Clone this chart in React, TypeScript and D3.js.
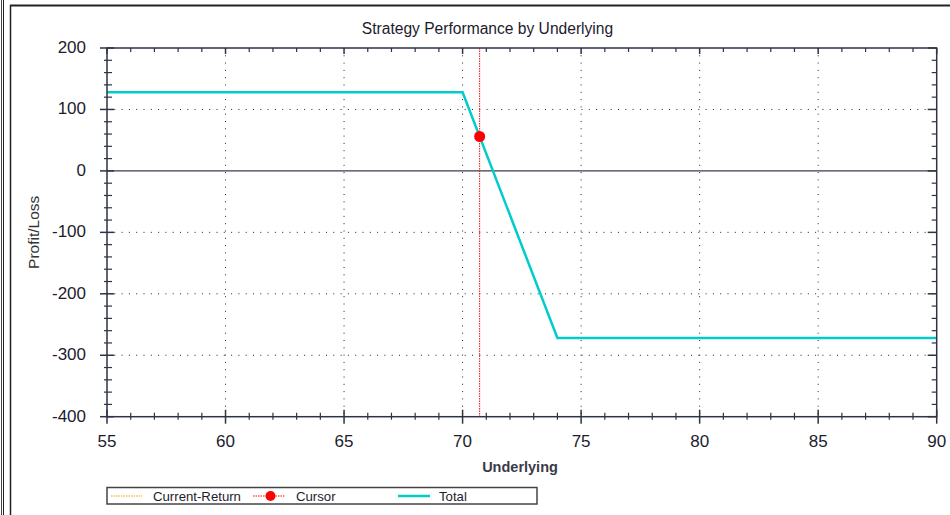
import React from "react";
import * as d3 from "d3";

const payoffX = [55, 70, 74, 90];
const payoffY = [128, 128, -272, -272];
const cursorX = 70.72;
const cursorY = 56;
const xMajorTicks = [55, 60, 65, 70, 75, 80, 85, 90];
const yMajorTicks = [200, 100, 0, -100, -200, -300, -400];
const xMinorStep = 1;
const yMinorStep = 20;
const legendItems = ["Current-Return", "Cursor", "Total"];
const title = "Strategy Performance by Underlying";

const W = 950;
const H = 515;
const L = 107, R = 936.7, T = 48, B = 416.7;
const axisColor = "#2e3346";
const textColor = "#1c1c2c";
const cyan = "#00cccc";
const font = "'Liberation Sans', Arial, sans-serif";

export default function App() {
  const x = d3.scaleLinear().domain([55, 90]).range([L, R]);
  const y = d3.scaleLinear().domain([-400, 200]).range([B, T]);
  const xMinor = d3.range(55, 90.001, xMinorStep).filter((v) => !xMajorTicks.includes(v));
  const yMinor = d3.range(-400, 200.001, yMinorStep).filter((v) => !yMajorTicks.includes(v));
  const line = d3
    .line<number>()
    .x((_, i) => x(payoffX[i]))
    .y((d) => y(d));
  const pathD = line(payoffY) || "";
  const xGrid = xMajorTicks.filter((v) => v !== 55 && v !== 90);
  const yGrid = yMajorTicks.filter((v) => v !== 200 && v !== -400 && v !== 0);

  const legY = 496;
  return (
    <svg
      width={W}
      height={H}
      style={{ position: "absolute", left: 0, top: 0, background: "#fff" }}
      fontFamily={font}
    >
      {/* outer frames */}
      <line x1={1.5} y1={0} x2={1.5} y2={H} stroke="#444" strokeWidth={1} />
      <line x1={3.5} y1={0} x2={3.5} y2={H} stroke="#222" strokeWidth={1} />
      <line x1={10.5} y1={5} x2={10.5} y2={H} stroke="#222" strokeWidth={1.5} />
      <line x1={10} y1={5.5} x2={W} y2={5.5} stroke="#222" strokeWidth={1.8} />

      <text x={487.5} y={34} textAnchor="middle" fontSize={15.6} fill={textColor}>
        {title}
      </text>

      {/* grid */}
      {xGrid.map((v) => (
        <line key={"gx" + v} x1={x(v)} x2={x(v)} y1={T} y2={B} stroke="#222" strokeWidth={1} strokeDasharray="1,6.3" />
      ))}
      {yGrid.map((v) => (
        <line key={"gy" + v} x1={L} x2={R} y1={y(v)} y2={y(v)} stroke="#222" strokeWidth={1} strokeDasharray="1,6.3" />
      ))}
      <line x1={L} x2={R} y1={y(0)} y2={y(0)} stroke="#3a3d4e" strokeWidth={1.2} />

      {/* total line */}
      <path d={pathD} fill="none" stroke={cyan} strokeWidth={2.5} />

      {/* cursor */}
      <line x1={x(cursorX)} x2={x(cursorX)} y1={T} y2={B} stroke="#f01010" strokeWidth={1} strokeDasharray="1.5,1" />
      <circle cx={x(cursorX)} cy={y(cursorY)} r={5.5} fill="#ff0000" />

      {/* frame */}
      <rect x={L} y={T} width={R - L} height={B - T} fill="none" stroke={axisColor} strokeWidth={1.5} />

      {/* ticks bottom/top */}
      {xMajorTicks.map((v) => (
        <g key={"xt" + v}>
          <line x1={x(v)} x2={x(v)} y1={B - 7} y2={B + 7} stroke={axisColor} strokeWidth={1.5} />
          <line x1={x(v)} x2={x(v)} y1={T} y2={T + 6} stroke={axisColor} strokeWidth={1.5} />
          <text x={x(v)} y={446.5} textAnchor="middle" fontSize={17} fill={textColor}>
            {v}
          </text>
        </g>
      ))}
      {xMinor.map((v) => (
        <g key={"xm" + v}>
          <line x1={x(v)} x2={x(v)} y1={B - 4} y2={B + 3} stroke={axisColor} strokeWidth={1.2} />
          <line x1={x(v)} x2={x(v)} y1={T} y2={T + 4} stroke={axisColor} strokeWidth={1.2} />
        </g>
      ))}
      {yMajorTicks.map((v) => (
        <g key={"yt" + v}>
          <line x1={L - 7} x2={L + 7} y1={y(v)} y2={y(v)} stroke={axisColor} strokeWidth={1.5} />
          <line x1={R - 9} x2={R} y1={y(v)} y2={y(v)} stroke={axisColor} strokeWidth={1.5} />
          <text x={86} y={y(v) + 5} textAnchor="end" fontSize={17} fill={textColor}>
            {v}
          </text>
        </g>
      ))}
      {yMinor.map((v) => (
        <g key={"ym" + v}>
          <line x1={L - 3} x2={L + 5} y1={y(v)} y2={y(v)} stroke={axisColor} strokeWidth={1.2} />
          <line x1={R - 5} x2={R} y1={y(v)} y2={y(v)} stroke={axisColor} strokeWidth={1.2} />
        </g>
      ))}

      {/* axis titles */}
      <text x={520} y={472} textAnchor="middle" fontSize={14.5} fill="#3a3a48" fontWeight="bold">
        Underlying
      </text>
      <text
        transform={`translate(39, ${(T + B) / 2}) rotate(-90)`}
        textAnchor="middle"
        fontSize={15.5}
        fill="#333"
      >
        Profit/Loss
      </text>

      {/* legend */}
      <rect x={107} y={487.5} width={430} height={16.5} fill="#fff" stroke="#444" strokeWidth={1.5} />
      <line x1={111} x2={142} y1={legY} y2={legY} stroke="#f5a000" strokeWidth={1} strokeDasharray="1.5,1" />
      <text x={153} y={legY + 5} fontSize={13.2} fill={textColor}>{legendItems[0]}</text>
      <line x1={253} x2={285} y1={legY} y2={legY} stroke="#ff0000" strokeWidth={1} strokeDasharray="1.5,1" />
      <circle cx={270.5} cy={legY} r={5} fill="#ff0000" />
      <text x={296} y={legY + 5} fontSize={13.2} fill={textColor}>{legendItems[1]}</text>
      <line x1={398} x2={430} y1={legY} y2={legY} stroke={cyan} strokeWidth={2.5} />
      <text x={439} y={legY + 5} fontSize={13.2} fill={textColor}>{legendItems[2]}</text>
    </svg>
  );
}
